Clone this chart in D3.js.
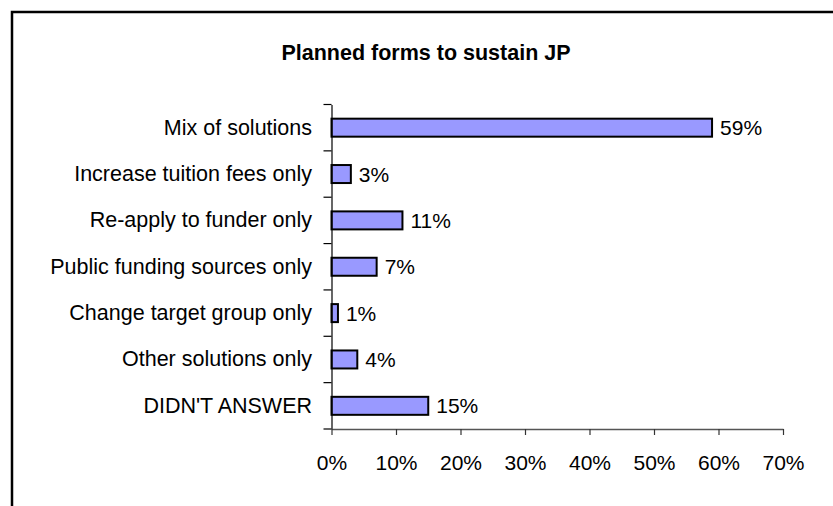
<!DOCTYPE html>
<html>
<head>
<meta charset="utf-8">
<script src="https://cdn.jsdelivr.net/npm/d3@7"></script>
<style>
  html, body { margin: 0; padding: 0; background: #fff; }
  svg { display: block; }
  text { font-family: "Liberation Sans", Arial, sans-serif; fill: #000; }
</style>
</head>
<body>
<svg id="chart" width="833" height="506"></svg>
<script>
// Survey answers: planned forms to sustain the joint programme
const categories = [
  "Mix of solutions",
  "Increase tuition fees only",
  "Re-apply to funder only",
  "Public funding sources only",
  "Change target group only",
  "Other solutions only",
  "DIDN'T ANSWER"
];
const shares = [59, 3, 11, 7, 1, 4, 15];
const tickValues = [0, 10, 20, 30, 40, 50, 60, 70];
const chartTitle = "Planned forms to sustain JP";

const svg = d3.select("#chart");
const FONT = "'Liberation Sans', Arial, sans-serif";

// outer chart frame
svg.append("rect")
  .attr("x", 12).attr("y", 12)
  .attr("width", 840).attr("height", 520)
  .attr("fill", "none").attr("stroke", "#000").attr("stroke-width", 2.5);

const plot = { left: 331.5, right: 783, top: 104.5, bottom: 429 };

const x = d3.scaleLinear().domain([0, 70]).range([plot.left, plot.right]);
const y = d3.scaleBand().domain(categories).range([plot.top, plot.bottom]);
const barH = 18;

svg.append("text")
  .attr("x", 426).attr("y", 60)
  .attr("text-anchor", "middle")
  .style("font-weight", "bold").style("font-size", "21.5px")
  .text(chartTitle);

// bars
svg.append("g").selectAll("rect")
  .data(categories)
  .join("rect")
  .attr("x", x(0))
  .attr("y", d => y(d) + y.bandwidth() / 2 - barH / 2)
  .attr("width", (d, i) => x(shares[i]) - x(0))
  .attr("height", barH)
  .attr("fill", "#9999ff")
  .attr("stroke", "#000")
  .attr("stroke-width", 2);

// value labels
svg.append("g").selectAll("text")
  .data(categories)
  .join("text")
  .attr("x", (d, i) => x(shares[i]) + 8)
  .attr("y", d => y(d) + y.bandwidth() / 2)
  .attr("dy", "0.36em")
  .style("font-size", "21px")
  .text((d, i) => shares[i] + "%");

// category axis
const yAxis = svg.append("g")
  .attr("transform", `translate(${plot.left},0)`)
  .call(d3.axisLeft(y).tickSize(0).tickPadding(19.5));
yAxis.select(".domain").attr("stroke", "#000").attr("stroke-width", 1.2);
yAxis.selectAll("text")
  .style("font-size", "21.5px")
  .style("font-family", FONT);
// separator ticks between categories
const edges = categories.map(d => y(d)).concat([plot.bottom]);
svg.append("g").selectAll("line")
  .data(edges)
  .join("line")
  .attr("x1", plot.left - 8).attr("x2", plot.left)
  .attr("y1", d => d).attr("y2", d => d)
  .attr("stroke", "#000").attr("stroke-width", 1.2);

// value axis
const xAxis = svg.append("g")
  .attr("transform", `translate(0,${plot.bottom})`)
  .call(d3.axisBottom(x).tickValues(tickValues).tickFormat(d => d + "%").tickSize(6).tickSizeOuter(0).tickPadding(20));
xAxis.select(".domain").attr("stroke", "#555").attr("stroke-width", 1.5);
xAxis.selectAll(".tick line").attr("stroke", "#333").attr("stroke-width", 1.2);
xAxis.selectAll("text")
  .style("font-size", "21px")
  .style("font-family", FONT);
</script>
</body>
</html>
